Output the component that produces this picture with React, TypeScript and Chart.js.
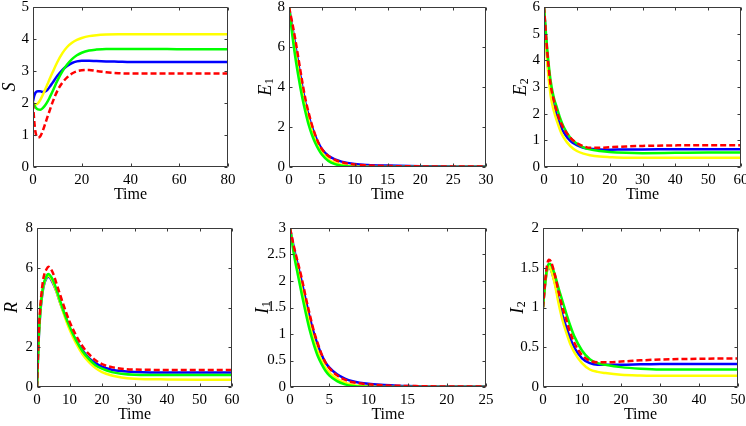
import React, { useEffect, useRef } from "react";
import { Chart, registerables } from "chart.js";

Chart.register(...registerables);

// ---- S panel ----
const sTime = [0, 0.5, 1, 2, 3, 4, 5, 6, 7, 8, 10, 12, 14, 16, 18, 20, 23, 26, 30, 35, 40, 50, 60, 80];
const sYellow = [2.02, 1.97, 1.95, 1.99, 2.1, 2.25, 2.42, 2.6, 2.78, 2.95, 3.28, 3.55, 3.75, 3.88, 3.97, 4.03, 4.09, 4.12, 4.14, 4.15, 4.15, 4.15, 4.15, 4.15];
const sGreen = [2.0, 1.93, 1.87, 1.8, 1.79, 1.84, 1.93, 2.05, 2.2, 2.36, 2.7, 2.98, 3.2, 3.37, 3.49, 3.57, 3.64, 3.67, 3.69, 3.69, 3.69, 3.69, 3.68, 3.68];
const sBlue = [2.05, 2.22, 2.32, 2.37, 2.37, 2.34, 2.36, 2.42, 2.52, 2.63, 2.85, 3.03, 3.16, 3.25, 3.3, 3.32, 3.32, 3.31, 3.3, 3.29, 3.28, 3.28, 3.28, 3.28];
const sRed = [2.0, 1.45, 1.1, 0.92, 0.96, 1.13, 1.35, 1.58, 1.8, 2.02, 2.38, 2.63, 2.8, 2.92, 2.99, 3.02, 3.03, 3.0, 2.96, 2.93, 2.92, 2.92, 2.92, 2.92];

// ---- E1 panel ----
const e1Time = [0, 0.5, 1, 1.5, 2, 2.5, 3, 3.5, 4, 4.5, 5, 6, 7, 8, 10, 12, 15, 20, 25, 30];
const e1Yellow = [8, 6.8, 5.7, 4.7, 3.8, 3.0, 2.35, 1.8, 1.35, 1.0, 0.72, 0.38, 0.2, 0.1, 0.03, 0.01, 0, 0, 0, 0];
const e1Green = [8, 6.6, 5.4, 4.4, 3.5, 2.75, 2.1, 1.6, 1.2, 0.88, 0.62, 0.3, 0.14, 0.06, 0.01, 0, 0, 0, 0, 0];
const e1Blue = [8, 7.0, 6.0, 5.0, 4.05, 3.2, 2.55, 2.0, 1.55, 1.18, 0.9, 0.56, 0.38, 0.27, 0.15, 0.1, 0.07, 0.04, 0.03, 0.02];
const e1Red = [8, 7.2, 6.3, 5.3, 4.3, 3.4, 2.7, 2.1, 1.6, 1.2, 0.9, 0.55, 0.36, 0.24, 0.12, 0.08, 0.05, 0.03, 0.02, 0.02];

// ---- E2 panel ----
const e2Time = [0, 1, 2, 3, 4, 5, 6, 8, 10, 12, 14, 17, 20, 25, 30, 40, 50, 60];
const e2Yellow = [6, 3.9, 2.7, 2.1, 1.7, 1.35, 1.1, 0.78, 0.6, 0.5, 0.44, 0.39, 0.37, 0.35, 0.35, 0.35, 0.35, 0.35];
const e2Green = [6, 4.4, 3.25, 2.6, 2.2, 1.8, 1.5, 1.1, 0.88, 0.74, 0.66, 0.6, 0.56, 0.53, 0.52, 0.53, 0.54, 0.54];
const e2Blue = [6, 4.1, 2.9, 2.3, 1.9, 1.55, 1.3, 0.98, 0.82, 0.72, 0.68, 0.66, 0.65, 0.66, 0.66, 0.67, 0.67, 0.67];
const e2Red = [6, 4.3, 3.1, 2.5, 2.05, 1.7, 1.45, 1.1, 0.9, 0.78, 0.72, 0.72, 0.74, 0.77, 0.79, 0.81, 0.82, 0.82];

// ---- R panel ----
const rTime = [0, 0.5, 1, 1.5, 2, 3, 3.5, 4, 5, 6, 7, 8, 10, 12, 14, 16, 18, 20, 23, 26, 30, 40, 50, 60];
const rYellow = [0, 2.4, 3.8, 4.6, 5.1, 5.55, 5.6, 5.55, 5.25, 4.8, 4.3, 3.8, 2.9, 2.2, 1.65, 1.25, 0.95, 0.75, 0.58, 0.48, 0.42, 0.38, 0.37, 0.37];
const rGreen = [0, 2.4, 3.8, 4.6, 5.15, 5.6, 5.68, 5.62, 5.35, 4.9, 4.4, 3.9, 3.05, 2.35, 1.8, 1.4, 1.1, 0.92, 0.75, 0.67, 0.62, 0.6, 0.6, 0.6];
const rBlue = [0, 2.3, 3.7, 4.5, 5.05, 5.5, 5.55, 5.5, 5.2, 4.8, 4.3, 3.85, 3.0, 2.35, 1.85, 1.45, 1.2, 1.02, 0.87, 0.8, 0.76, 0.73, 0.73, 0.73];
const rRed = [0, 2.6, 4.0, 4.9, 5.5, 5.95, 6.05, 6.0, 5.7, 5.2, 4.7, 4.2, 3.3, 2.6, 2.05, 1.65, 1.35, 1.15, 1.0, 0.92, 0.88, 0.86, 0.86, 0.86];

// ---- I1 panel ----
const i1Time = [0, 0.5, 1, 1.5, 2, 2.5, 3, 3.5, 4, 4.5, 5, 6, 7, 8, 10, 12, 15, 20, 25];
const i1Yellow = [3, 2.55, 2.2, 1.85, 1.5, 1.18, 0.9, 0.68, 0.5, 0.37, 0.27, 0.15, 0.08, 0.04, 0.01, 0, 0, 0, 0];
const i1Green = [3, 2.5, 2.12, 1.75, 1.4, 1.08, 0.82, 0.6, 0.44, 0.31, 0.22, 0.11, 0.05, 0.02, 0.005, 0, 0, 0, 0];
const i1Blue = [3, 2.62, 2.3, 1.98, 1.64, 1.32, 1.04, 0.81, 0.62, 0.47, 0.37, 0.24, 0.16, 0.11, 0.06, 0.04, 0.02, 0.01, 0.01];
const i1Red = [3, 2.65, 2.35, 2.05, 1.7, 1.38, 1.08, 0.84, 0.63, 0.47, 0.36, 0.22, 0.14, 0.09, 0.05, 0.03, 0.02, 0.01, 0.01];

// ---- I2 panel ----
const i2Time = [0, 0.5, 1, 1.5, 2, 3, 4, 5, 6, 7, 8, 10, 12, 14, 16, 20, 25, 30, 40, 50];
const i2Yellow = [1.0, 1.27, 1.45, 1.52, 1.48, 1.3, 1.05, 0.84, 0.68, 0.54, 0.44, 0.3, 0.22, 0.19, 0.175, 0.155, 0.145, 0.14, 0.14, 0.14];
const i2Green = [1.0, 1.28, 1.48, 1.55, 1.54, 1.42, 1.24, 1.08, 0.92, 0.77, 0.64, 0.46, 0.35, 0.3, 0.28, 0.25, 0.23, 0.22, 0.22, 0.22];
const i2Blue = [1.0, 1.27, 1.46, 1.5, 1.48, 1.32, 1.1, 0.9, 0.75, 0.61, 0.5, 0.36, 0.3, 0.28, 0.28, 0.28, 0.285, 0.29, 0.29, 0.29];
const i2Red = [1.0, 1.3, 1.52, 1.6, 1.58, 1.42, 1.2, 1.0, 0.84, 0.68, 0.56, 0.4, 0.33, 0.31, 0.31, 0.32, 0.335, 0.345, 0.355, 0.36];

const FONT = "'Liberation Serif', 'Times New Roman', serif";

type Frame = { cx: number; cy: number; cw: number; ch: number; L: number; T: number; R: number; B: number; yTitleX: number; xTitlePad: number };
type PanelDef = {
  label: string; sub: string; time: number[]; yellow: number[]; green: number[]; blue: number[]; red: number[];
  xMax: number; xStep: number; yMax: number; yStep: number; frame: Frame;
};

const panels: PanelDef[] = [
  { label: "S", sub: "", time: sTime, yellow: sYellow, green: sGreen, blue: sBlue, red: sRed, xMax: 80, xStep: 20, yMax: 5, yStep: 1,
    frame: { cx: 0, cy: -10, cw: 250, ch: 223, L: 33, T: 7, R: 228, B: 167, yTitleX: 10, xTitlePad: 8.5 } },
  { label: "E", sub: "1", time: e1Time, yellow: e1Yellow, green: e1Green, blue: e1Blue, red: e1Red, xMax: 30, xStep: 5, yMax: 8, yStep: 2,
    frame: { cx: 250, cy: -10, cw: 250, ch: 223, L: 289, T: 7, R: 486, B: 167, yTitleX: 266, xTitlePad: 8.5 } },
  { label: "E", sub: "2", time: e2Time, yellow: e2Yellow, green: e2Green, blue: e2Blue, red: e2Red, xMax: 60, xStep: 10, yMax: 6, yStep: 1,
    frame: { cx: 500, cy: -10, cw: 260, ch: 223, L: 544, T: 7, R: 741, B: 167, yTitleX: 521, xTitlePad: 8.5 } },
  { label: "R", sub: "", time: rTime, yellow: rYellow, green: rGreen, blue: rBlue, red: rRed, xMax: 60, xStep: 10, yMax: 8, yStep: 2,
    frame: { cx: 0, cy: 203, cw: 250, ch: 223, L: 37, T: 228, R: 232, B: 387, yTitleX: 12, xTitlePad: 1.5 } },
  { label: "I", sub: "1", time: i1Time, yellow: i1Yellow, green: i1Green, blue: i1Blue, red: i1Red, xMax: 25, xStep: 5, yMax: 3, yStep: 0.5,
    frame: { cx: 250, cy: 203, cw: 250, ch: 223, L: 290, T: 228, R: 486, B: 387, yTitleX: 263, xTitlePad: 1.5 } },
  { label: "I", sub: "2", time: i2Time, yellow: i2Yellow, green: i2Green, blue: i2Blue, red: i2Red, xMax: 50, xStep: 10, yMax: 2, yStep: 0.5,
    frame: { cx: 500, cy: 203, cw: 260, ch: 223, L: 543, T: 228, R: 738, B: 387, yTitleX: 518, xTitlePad: 1.5 } },
];

const boxPlugin = {
  id: "matlabBox",
  afterDatasetsDraw(chart: any) {
    const { ctx, chartArea } = chart;
    const { left, right, top, bottom } = chartArea;
    const xs = chart.scales.x;
    const ys = chart.scales.y;
    const tl = 3;
    ctx.save();
    ctx.strokeStyle = "#3a3a3a";
    ctx.lineWidth = 1;
    const l = Math.round(left) + 0.5, r = Math.round(right) - 0.5;
    const t = Math.round(top) + 0.5, b = Math.round(bottom) - 0.5;
    ctx.beginPath();
    ctx.rect(l, t, r - l, b - t);
    xs.ticks.forEach((tk: any) => {
      const px = Math.round(xs.getPixelForValue(tk.value)) + 0.5;
      ctx.moveTo(px, b); ctx.lineTo(px, b - tl);
      ctx.moveTo(px, t); ctx.lineTo(px, t + tl);
    });
    ys.ticks.forEach((tk: any) => {
      const py = Math.round(ys.getPixelForValue(tk.value)) + 0.5;
      ctx.moveTo(l, py); ctx.lineTo(l + tl, py);
      ctx.moveTo(r, py); ctx.lineTo(r - tl, py);
    });
    ctx.stroke();
    ctx.restore();
  },
};

// Draws the rotated y-axis variable name with an upright subscript
const yLabelPlugin = {
  id: "yLabel",
  afterDraw(chart: any, _args: any, opts: any) {
    const { ctx, chartArea } = chart;
    const mainFont = `italic 18px ${FONT}`;
    const subFont = `12px ${FONT}`;
    ctx.save();
    ctx.font = mainFont;
    const mw = ctx.measureText(opts.text).width;
    ctx.font = subFont;
    const sw = opts.sub ? ctx.measureText(opts.sub).width + 0.5 : 0;
    const total = mw + sw;
    ctx.translate(opts.x, (chartArea.top + chartArea.bottom) / 2);
    ctx.rotate(-Math.PI / 2);
    ctx.fillStyle = "#000";
    ctx.textBaseline = "middle";
    ctx.textAlign = "left";
    ctx.font = mainFont;
    ctx.fillText(opts.text, -total / 2, 0);
    if (opts.sub) {
      ctx.font = subFont;
      ctx.fillText(opts.sub, -total / 2 + mw + 0.5, 4);
    }
    ctx.restore();
  },
};

function mk(time: number[], vals: number[]) {
  return time.map((t, i) => ({ x: t, y: vals[i] }));
}

function Panel({ p }: { p: PanelDef }) {
  const ref = useRef<HTMLCanvasElement | null>(null);
  useEffect(() => {
    if (!ref.current) return;
    const f = p.frame;
    const base = { borderWidth: 2.5, pointRadius: 0, cubicInterpolationMode: "monotone" as const, fill: false };
    const chart = new Chart(ref.current, {
      type: "line",
      data: {
        datasets: [
          { ...base, label: "red", data: mk(p.time, p.red), borderColor: "#ff0000", borderDash: [6, 3], order: 0 },
          { ...base, label: "green", data: mk(p.time, p.green), borderColor: "#00ff00", order: 1 },
          { ...base, label: "yellow", data: mk(p.time, p.yellow), borderColor: "#ffff00", order: 2 },
          { ...base, label: "blue", data: mk(p.time, p.blue), borderColor: "#0000ff", order: 3 },
        ],
      },
      options: {
        animation: false,
        responsive: false,
        maintainAspectRatio: false,
        layout: { padding: { top: f.T - f.cy, right: f.cx + f.cw - f.R, left: 0, bottom: 0 } },
        plugins: {
          legend: { display: false },
          tooltip: { enabled: false },
          yLabel: { text: p.label, sub: p.sub, x: f.yTitleX - f.cx },
        },
        scales: {
          x: {
            type: "linear", min: 0, max: p.xMax,
            grid: { display: false, drawTicks: false }, border: { display: false },
            ticks: { stepSize: p.xStep, padding: 4, color: "#000", maxRotation: 0, autoSkip: false,
              font: { family: FONT, size: 15 }, callback: (v: any) => `${+Number(v).toFixed(2)}` },
            title: { display: true, text: "Time", color: "#000", font: { family: FONT, size: 16 },
              padding: { top: 0, bottom: f.xTitlePad } },
            afterFit: (s: any) => { s.height = f.cy + f.ch - f.B; },
          },
          y: {
            type: "linear", min: 0, max: p.yMax,
            grid: { display: false, drawTicks: false }, border: { display: false },
            ticks: { stepSize: p.yStep, padding: 4, color: "#000", autoSkip: false,
              font: { family: FONT, size: 15 }, callback: (v: any) => `${+Number(v).toFixed(2)}` },
            title: { display: false },
            afterFit: (s: any) => { s.width = f.L - f.cx; },
          },
        },
      },
      plugins: [boxPlugin, yLabelPlugin],
    } as any);
    return () => chart.destroy();
  }, [p]);
  const f = p.frame;
  return (
    <canvas
      ref={ref}
      width={f.cw}
      height={f.ch}
      style={{ position: "absolute", left: f.cx, top: f.cy, width: f.cw, height: f.ch }}
    />
  );
}

export default function App() {
  return (
    <div style={{ position: "absolute", left: 0, top: 0, width: 746, height: 426, overflow: "hidden", background: "#fff" }}>
      {panels.map((p, i) => (
        <Panel key={i} p={p} />
      ))}
    </div>
  );
}
